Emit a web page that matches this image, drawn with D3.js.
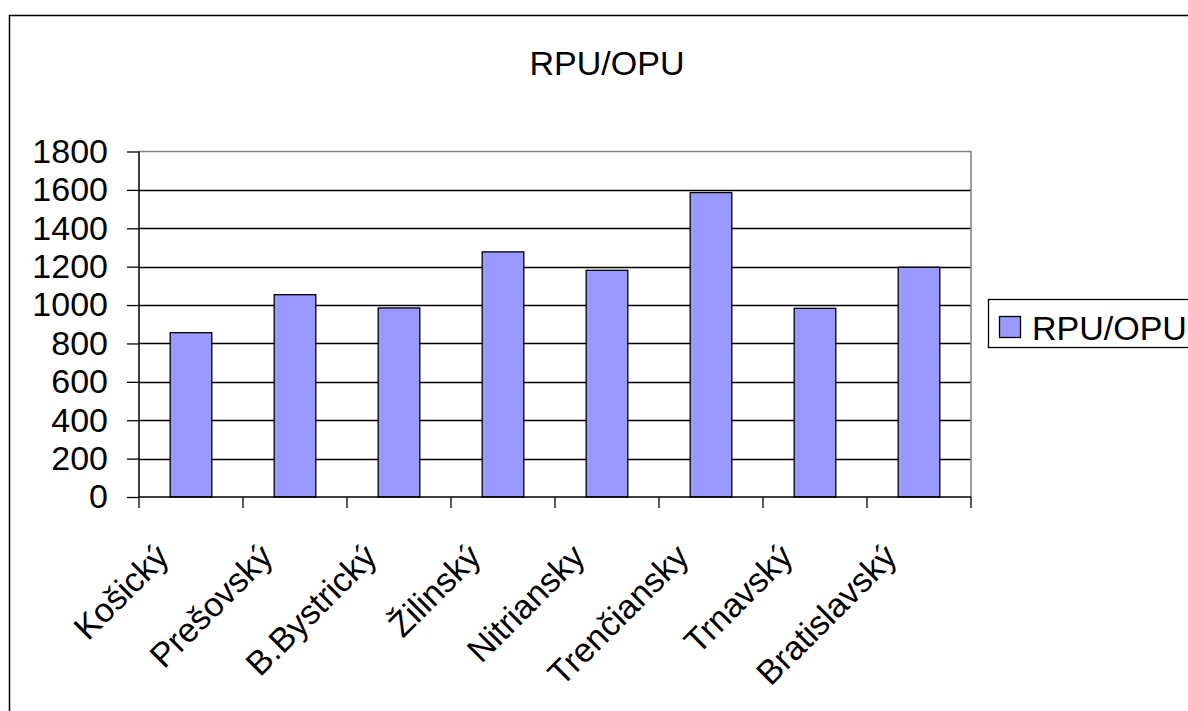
<!DOCTYPE html>
<html><head><meta charset="utf-8">
<script src="https://cdn.jsdelivr.net/npm/d3@7"></script>
<style>body{margin:0;background:#fff}svg{display:block}text{font-family:"Liberation Sans",Arial,sans-serif;fill:#000}</style>
</head><body>
<script>
const categories = ["Košický","Prešovský","B.Bystrický","Žilinský","Nitriansky","Trenčiansky","Trnavský","Bratislavský"];
const values = [856,1054,985,1277,1181,1586,983,1197];
const yTicks = [0,200,400,600,800,1000,1200,1400,1600,1800];
const seriesName = "RPU/OPU";
const title = "RPU/OPU";

const W=1188,H=711;
const svg=d3.select("body").append("svg").attr("width",W).attr("height",H);
svg.append("rect").attr("x",9.5).attr("y",15.5).attr("width",W).attr("height",H).attr("fill","#fff").attr("stroke","#000").attr("stroke-width",1.5);

const L=139,R=971,T=151.5,B=497;
const x=d3.scaleBand().domain(categories).range([L,R]).paddingInner(0.6).paddingOuter(0.3);
const xb=d3.scaleBand().domain(categories).range([L,R]);
const y=d3.scaleLinear().domain([0,1800]).range([B,T]);

// gridlines
svg.append("g").selectAll("line").data(yTicks.filter(d=>d>0&&d<1800)).join("line")
 .attr("x1",L).attr("x2",R).attr("y1",d=>Math.round(y(d))+0.5).attr("y2",d=>Math.round(y(d))+0.5).attr("stroke","#000").attr("stroke-width",1.3);
// plot border top/right grey
svg.append("path").attr("d",`M${L},${T}H${R}V${B}`).attr("fill","none").attr("stroke","#808080").attr("stroke-width",1.5);

// bars
svg.append("g").selectAll("rect").data(values).join("rect")
 .attr("x",(d,i)=>x(categories[i])).attr("width",x.bandwidth())
 .attr("y",d=>y(d)).attr("height",d=>B-y(d))
 .attr("fill","#9999FF").attr("stroke","#000").attr("stroke-width",1.3);

// y axis
const ya=svg.append("g").attr("transform",`translate(${L},0)`).call(d3.axisLeft(y).tickValues(yTicks).tickSize(12).tickPadding(19).tickFormat(d3.format("d")));
ya.select(".domain").attr("stroke","#000").attr("stroke-width",1.5).attr("d",`M0,${T}V${B}`);
ya.selectAll("line").attr("stroke","#000").attr("stroke-width",1.3);
ya.selectAll("text").attr("font-size",34).attr("font-family","Liberation Sans, Arial, sans-serif").attr("fill","#000");

// x axis
const xa=svg.append("g").attr("transform",`translate(0,${B})`);
xa.append("line").attr("x1",L).attr("x2",R).attr("stroke","#000").attr("stroke-width",1.5);
xa.selectAll("line.tk").data(categories.concat(["__end"])).join("line").attr("class","tk")
 .attr("x1",(d,i)=>L+i*xb.bandwidth()).attr("x2",(d,i)=>L+i*xb.bandwidth()).attr("y1",0).attr("y2",11).attr("stroke","#000").attr("stroke-width",1.3);
xa.selectAll("text").data(categories).join("text")
 .attr("transform",d=>`translate(${xb(d)+xb.bandwidth()/2-37},${45}) rotate(-45)`)
 .attr("text-anchor","end").attr("dy","0.7em").attr("font-size",34).text(d=>d);

// title
svg.append("text").attr("x",607).attr("y",75).attr("text-anchor","middle").attr("font-size",34).text(title);

// legend
const lg=svg.append("g");
lg.append("rect").attr("x",988.5).attr("y",299.5).attr("width",220).attr("height",48).attr("fill","#fff").attr("stroke","#000").attr("stroke-width",1.3);
lg.append("rect").attr("x",999.5).attr("y",316.5).attr("width",21).attr("height",21).attr("fill","#9999FF").attr("stroke","#000").attr("stroke-width",1.3);
lg.append("text").attr("x",1032).attr("y",340).attr("font-size",34).text(seriesName);
</script>
</body></html>
